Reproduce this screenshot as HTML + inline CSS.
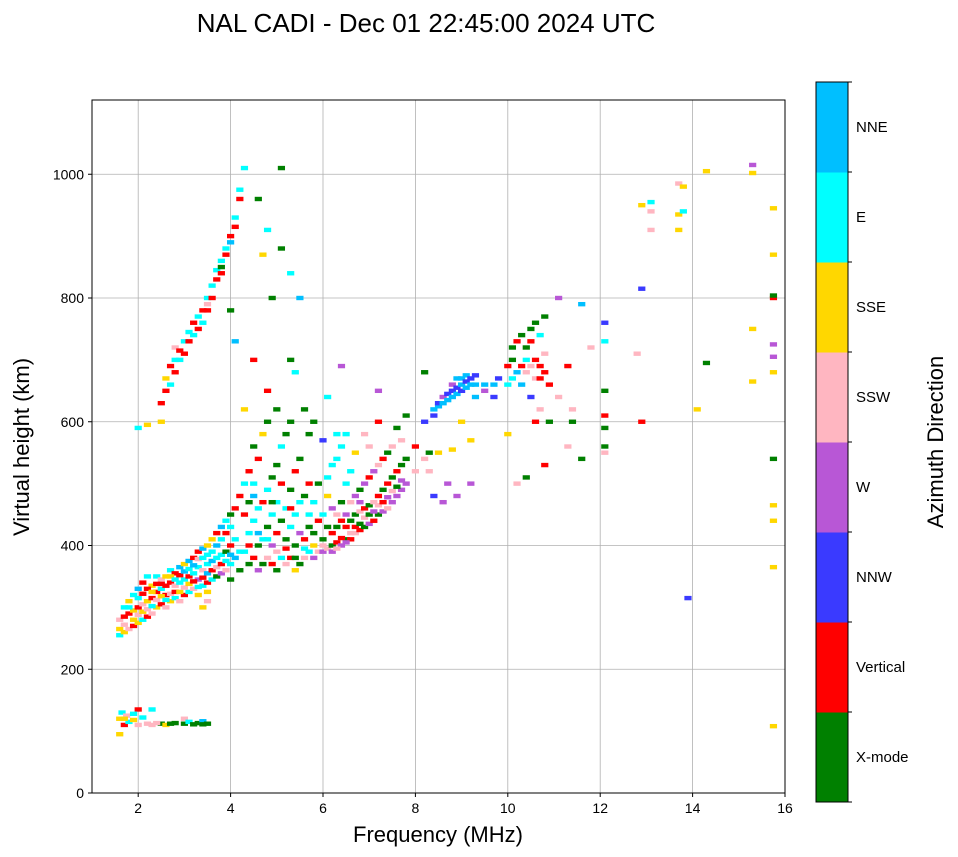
<!DOCTYPE html>
<html><head><meta charset="utf-8"><style>
body{margin:0;background:#fff;}
svg{display:block;font-family:"Liberation Sans","DejaVu Sans",sans-serif;}
</style></head><body>
<svg id="chart" width="958" height="857" viewBox="0 0 958 857" xmlns="http://www.w3.org/2000/svg">
<rect width="958" height="857" fill="#fff"/>
<text x="426" y="32" font-size="26" text-anchor="middle">NAL CADI - Dec 01 22:45:00 2024 UTC</text>
<g id="grid"></g>
<g id="marks"></g>
<rect x="92" y="100" width="693" height="693" fill="none" stroke="#000" stroke-width="1"/>
<g id="axes"></g>
<text x="438" y="842" font-size="22" text-anchor="middle">Frequency (MHz)</text>
<text transform="translate(29,447) rotate(-90)" font-size="22" text-anchor="middle">Virtual height (km)</text>
<g id="colorbar"></g>
<text transform="translate(943,442) rotate(-90)" font-size="22" text-anchor="middle">Azimuth Direction</text>
</svg>
<script>
const xTicks = [2,4,6,8,10,12,14,16];
const yTicks = [0,200,400,600,800,1000];
const directions = ["X-mode","Vertical","NNW","W","SSW","SSE","E","NNE"];
const dirColors = ["#008000","#ff0000","#3a3aff","#b857d6","#ffb6c1","#ffd700","#00ffff","#00bfff"];

const eLayer = [[1.6,95,5],[1.6,120,5],[1.65,130,6],[1.7,110,1],[1.75,125,4],[1.8,115,6],[1.9,118,5],[2.0,135,1],[2.0,110,4],[2.1,122,6],[2.2,112,4],[2.3,110,4],[2.3,135,6],[2.5,112,0],[2.6,110,5],[2.8,113,0],[3.0,112,0],[3.0,120,4],[3.1,115,6],[3.2,111,0],[3.3,113,0],[3.4,116,7],[3.5,112,0],[1.7,120,5],[1.9,128,6],[2.4,113,4],[2.7,112,0],[3.4,111,0]];

const fLow = [[1.6,255,6],[1.6,265,5],[1.6,280,4],[1.7,260,5],[1.7,285,1],[1.7,300,6],[1.8,265,4],[1.8,290,1],[1.8,310,5],[1.9,270,1],[1.9,295,5],[1.9,320,6],[2.0,275,5],[2.0,300,1],[2.0,330,7],[2.1,280,6],[2.1,305,4],[2.1,340,1],[2.2,285,1],[2.2,310,5],[2.2,350,6],[2.3,290,4],[2.3,315,1],[2.3,335,5],[2.4,300,5],[2.4,325,1],[2.4,350,6],[2.5,305,1],[2.5,330,6],[2.5,345,4],[2.6,300,4],[2.6,320,1],[2.6,350,5],[2.7,310,5],[2.7,340,1],[2.7,360,6],[2.8,315,6],[2.8,335,4],[2.8,355,1],[2.9,310,4],[2.9,340,6],[2.9,365,7],[3.0,320,1],[3.0,345,6],[3.0,370,5],[3.1,325,6],[3.1,350,1],[3.1,375,7],[3.2,330,4],[3.2,355,6],[3.2,380,1],[3.3,320,5],[3.3,345,3],[3.3,365,6],[3.3,390,1],[3.4,300,5],[3.4,335,6],[3.4,360,4],[3.4,395,7],[3.5,310,4],[3.5,340,1],[3.5,370,6],[3.5,400,5],[3.6,345,6],[3.6,375,7],[3.6,410,5],[3.7,350,0],[3.7,380,6],[3.7,420,1],[3.8,355,3],[3.8,385,6],[3.8,430,7],[3.9,360,4],[3.9,390,0],[3.9,440,6],[4.0,345,0],[4.0,370,6],[4.0,400,1],[4.0,450,0],[4.1,380,7],[4.1,410,6],[4.1,460,1],[4.2,360,0],[4.2,390,6],[4.2,480,1]];

const fLowFill = [[1.7,272,4],[1.8,300,6],[1.9,280,5],[2.0,288,4],[2.0,315,6],[2.1,293,5],[2.1,322,1],[2.2,297,4],[2.2,330,1],[2.3,302,6],[2.3,325,5],[2.4,312,4],[2.4,338,1],[2.5,318,5],[2.5,338,1],[2.6,312,6],[2.6,335,1],[2.7,322,4],[2.7,350,5],[2.8,325,1],[2.8,345,6],[2.9,325,5],[2.9,352,1],[3.0,332,4],[3.0,358,7],[3.1,338,5],[3.1,362,6],[3.2,342,1],[3.2,368,7],[3.3,333,6],[3.3,378,4],[3.4,348,1],[3.4,380,6],[3.5,325,5],[3.5,355,7],[3.5,385,6],[3.6,360,1],[3.6,390,6],[3.7,365,4],[3.7,400,7],[3.8,370,1],[3.8,410,6],[3.9,375,6],[3.9,420,1],[4.0,385,7],[4.0,430,6]];

const secondHop = [[2.5,600,5],[2.5,630,1],[2.6,650,1],[2.6,670,5],[2.7,660,6],[2.7,690,1],[2.8,680,1],[2.8,700,6],[2.8,720,4],[2.9,700,6],[2.9,715,1],[3.0,710,1],[3.0,730,6],[3.1,730,1],[3.1,745,6],[3.2,740,6],[3.2,760,1],[3.3,750,1],[3.3,770,6],[3.4,760,6],[3.4,780,1],[3.5,780,1],[3.5,800,6],[3.5,790,4],[3.6,800,1],[3.6,820,6],[3.7,830,1],[3.7,845,6],[3.8,850,0],[3.8,860,6],[3.8,840,1],[3.9,870,1],[3.9,880,6],[4.0,890,7],[4.0,900,1],[4.0,780,0],[4.1,915,1],[4.1,930,6],[4.2,960,1],[4.2,975,6]];

const fMid = [[4.3,390,6],[4.3,450,1],[4.3,500,6],[4.4,370,0],[4.4,420,6],[4.4,470,0],[4.4,520,1],[4.5,380,1],[4.5,440,6],[4.5,480,7],[4.5,560,0],[4.6,360,3],[4.6,400,0],[4.6,460,6],[4.6,540,1],[4.7,370,0],[4.7,410,6],[4.7,470,1],[4.7,580,5],[4.8,380,4],[4.8,430,0],[4.8,490,6],[4.8,600,0],[4.9,370,1],[4.9,400,3],[4.9,450,6],[4.9,510,0],[5.0,360,0],[5.0,420,1],[5.0,470,6],[5.0,530,0],[5.0,620,0],[5.1,380,6],[5.1,440,0],[5.1,500,1],[5.1,560,6],[5.2,370,4],[5.2,410,0],[5.2,460,6],[5.2,580,0],[5.3,380,1],[5.3,430,6],[5.3,490,0],[5.3,600,0],[5.4,360,5],[5.4,400,0],[5.4,450,6],[5.4,520,1],[5.5,370,0],[5.5,420,3],[5.5,470,6],[5.5,540,0],[5.6,380,4],[5.6,410,1],[5.6,480,0],[5.6,620,0],[5.7,390,6],[5.7,430,0],[5.7,500,1],[5.7,580,0],[5.8,380,3],[5.8,420,0],[5.8,470,6],[5.8,600,0],[5.9,390,4],[5.9,440,1],[5.9,500,0],[6.0,390,3],[6.0,410,0],[6.0,450,6],[6.0,570,2],[6.1,395,4],[6.1,430,0],[6.1,480,5],[6.2,400,0],[6.2,420,1],[6.2,460,3],[6.2,530,6],[6.3,405,1],[6.3,430,0],[6.3,450,4],[6.3,540,6],[6.4,400,3],[6.4,440,1],[6.4,470,0],[6.4,560,6],[6.5,410,0],[6.5,430,1],[6.5,450,3],[6.5,500,6],[6.5,580,6],[6.6,410,1],[6.6,440,0],[6.6,470,4],[6.6,520,6],[6.7,420,4],[6.7,450,0],[6.7,480,3],[6.7,550,5],[6.8,425,1],[6.8,455,4],[6.8,490,0],[6.9,430,0],[6.9,460,1],[6.9,500,3],[6.9,580,4],[7.0,435,3],[7.0,465,0],[7.0,510,1],[7.0,560,4],[7.1,440,1],[7.1,470,4],[7.1,520,3],[7.2,450,0],[7.2,480,1],[7.2,530,4],[7.2,600,1],[7.3,455,3],[7.3,490,0],[7.3,540,1],[7.4,460,4],[7.4,500,1],[7.4,550,0],[7.5,470,3],[7.5,510,0],[7.5,560,4],[7.6,480,3],[7.6,520,1],[7.6,590,0],[7.7,490,3],[7.7,530,0],[7.7,570,4],[7.8,500,3],[7.8,540,0],[7.8,610,0]];

const fMidFill = [[6.2,390,3],[6.3,395,4],[6.4,412,1],[6.5,405,3],[6.6,420,4],[6.7,430,1],[6.8,435,0],[6.8,470,3],[6.9,445,4],[7.0,450,0],[7.1,455,3],[7.2,465,4],[7.3,470,1],[7.4,478,3],[7.5,488,4],[7.6,495,0],[7.7,505,3],[4.4,400,1],[4.6,420,7],[4.8,410,6],[5.0,390,4],[5.2,395,1],[5.4,380,0],[5.6,395,6],[5.8,400,5],[6.0,400,4],[4.5,500,6],[4.9,470,0],[5.3,460,1],[5.7,450,6],[6.1,510,6],[6.3,580,6]];

const fHigh = [[8.0,520,4],[8.0,560,1],[8.2,540,4],[8.2,680,0],[8.2,600,2],[8.3,550,0],[8.3,520,4],[8.4,610,2],[8.4,620,7],[8.4,480,2],[8.5,625,7],[8.5,630,2],[8.5,550,5],[8.6,630,7],[8.6,640,3],[8.6,470,3],[8.7,635,7],[8.7,645,2],[8.7,500,3],[8.8,640,7],[8.8,650,2],[8.8,660,3],[8.8,555,5],[8.9,645,7],[8.9,655,2],[8.9,670,7],[8.9,480,3],[9.0,650,2],[9.0,660,7],[9.0,670,7],[9.0,600,5],[9.1,655,7],[9.1,665,2],[9.1,675,7],[9.2,660,7],[9.2,670,2],[9.2,570,5],[9.2,500,3],[9.3,660,7],[9.3,675,2],[9.3,640,7],[9.5,660,7],[9.5,650,3],[9.7,660,7],[9.7,640,2],[9.8,670,2],[10.0,690,1],[10.0,660,6],[10.0,580,5],[10.1,700,0],[10.1,720,0],[10.1,670,6],[10.2,680,7],[10.2,730,1],[10.2,500,4],[10.3,690,1],[10.3,740,0],[10.3,660,7],[10.4,700,6],[10.4,720,0],[10.4,680,4],[10.4,510,0],[10.5,730,1],[10.5,750,0],[10.5,690,4],[10.5,640,2],[10.6,760,0],[10.6,700,1],[10.6,670,4],[10.6,600,1],[10.7,740,6],[10.7,690,1],[10.7,670,1],[10.7,620,4],[10.8,770,0],[10.8,710,4],[10.8,680,1],[10.8,530,1],[10.9,660,1],[10.9,600,0],[11.1,800,3],[11.1,640,4],[11.3,690,1],[11.3,560,4],[11.4,600,0],[11.4,620,4],[11.6,790,7],[11.6,540,0],[11.8,720,4],[12.1,760,2],[12.1,730,6],[12.1,650,0],[12.1,610,1],[12.1,590,0],[12.1,560,0],[12.1,550,4],[12.8,710,4],[12.9,950,5],[12.9,815,2],[12.9,600,1],[13.1,940,4],[13.1,910,4],[13.1,955,6],[13.7,985,4],[13.7,935,5],[13.7,910,5],[13.8,980,5],[13.8,940,6],[14.1,620,5],[14.3,1005,5],[14.3,695,0],[13.9,315,2],[15.3,1015,3],[15.3,1002,5],[15.3,750,5],[15.3,665,5],[15.75,945,5],[15.75,870,5],[15.75,800,1],[15.75,804,0],[15.75,725,3],[15.75,705,3],[15.75,680,5],[15.75,540,0],[15.75,465,5],[15.75,440,5],[15.75,365,5],[15.75,108,5]];

const scattered = [[4.3,1010,6],[4.6,960,0],[4.8,910,6],[5.1,1010,0],[5.1,880,0],[5.3,840,6],[5.5,800,7],[4.7,870,5],[4.9,800,0],[5.3,700,0],[4.5,700,1],[4.8,650,1],[5.4,680,6],[6.4,690,3],[7.2,650,3],[6.1,640,6],[4.3,620,5],[4.1,730,7],[2.2,595,5],[2.0,590,6]];

const NS="http://www.w3.org/2000/svg";
const X0=92,X1=785,Y0=793,Y1=100,FMIN=1,FMAX=16,HMIN=0,HMAX=1120;
const xs=f=>X0+(f-FMIN)/(FMAX-FMIN)*(X1-X0);
const ys=h=>Y0-(h-HMIN)/(HMAX-HMIN)*(Y0-Y1);
function mk(tag,attrs,parent){const e=document.createElementNS(NS,tag);for(const k in attrs)e.setAttribute(k,attrs[k]);parent.appendChild(e);return e;}
const grid=document.getElementById('grid'),axes=document.getElementById('axes'),marks=document.getElementById('marks'),cb=document.getElementById('colorbar');

xTicks.forEach(t=>{const x=xs(t);
 const g=mk('line',{x1:x,x2:x,y1:Y1,y2:Y0,stroke:'#b0b0b0','stroke-width':0.8},grid);
 
 
 mk('line',{x1:x,x2:x,y1:Y0,y2:Y0+4,stroke:'#000'},axes);
 const tx=mk('text',{x:x,y:Y0+20,'font-size':14,'text-anchor':'middle'},axes);tx.textContent=t;
 
 
});
yTicks.forEach(t=>{const y=ys(t);
 const g=mk('line',{x1:X0,x2:X1,y1:y,y2:y,stroke:'#b0b0b0','stroke-width':0.8},grid);
 
 
 mk('line',{x1:X0-4,x2:X0,y1:y,y2:y,stroke:'#000'},axes);
 const tx=mk('text',{x:X0-8,y:y+5,'font-size':14,'text-anchor':'end'},axes);tx.textContent=t;
 
 
});

[eLayer,fLow,fLowFill,secondHop,fMid,fMidFill,fHigh,scattered].forEach(arr=>arr.forEach(p=>{
 const x=xs(p[0]),y=ys(p[1]);
 const r=mk('rect',{x:x-3.6,y:y-2.2,width:7.2,height:4.4,fill:dirColors[p[2]]},marks);
 
 
}));

const CBX=816,CBW=32,CBT=82,CBB=802,bh=(CBB-CBT)/directions.length;
directions.forEach((d,i)=>{const y=CBB-(i+1)*bh;
 const r=mk('rect',{x:CBX,y:y,width:CBW,height:bh+0.5,fill:dirColors[i]},cb);
 
 
 const t=mk('text',{x:856,y:y+bh/2+5,'font-size':15},cb);t.textContent=d;
 
 
});
for(let i=0;i<=directions.length;i++){const y=CBB-i*bh;mk('line',{x1:CBX+CBW,x2:CBX+CBW+4,y1:y,y2:y,stroke:'#000'},cb);}
mk('rect',{x:CBX,y:CBT,width:CBW,height:CBB-CBT,fill:'none',stroke:'#000','stroke-width':1},cb);
</script>
</body></html>
